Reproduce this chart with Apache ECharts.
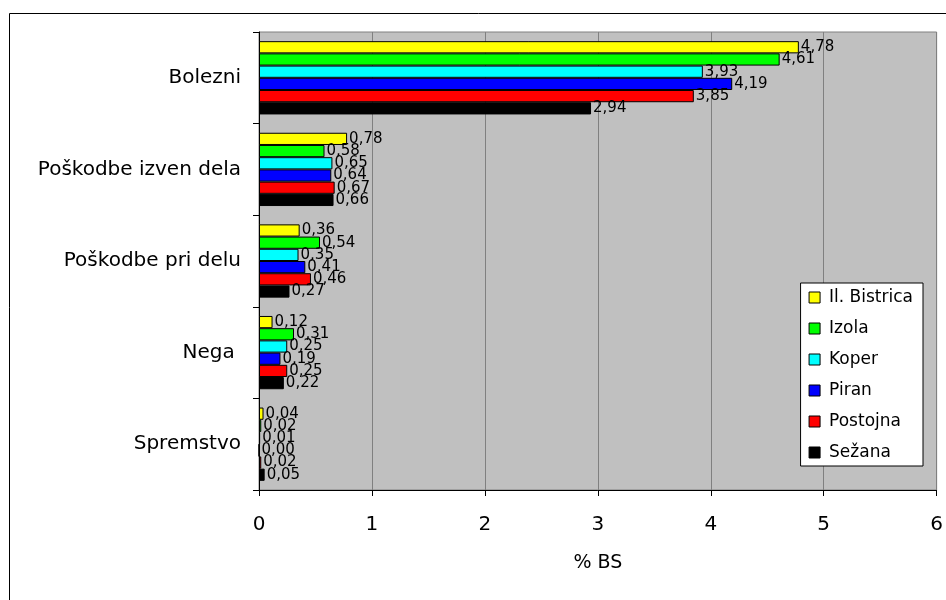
<!DOCTYPE html>
<html>
<head>
<meta charset="utf-8">
<script src="https://cdn.jsdelivr.net/npm/echarts@6/dist/echarts.min.js"></script>
<style>
html,body{margin:0;padding:0;background:#fff;}
#c{width:946px;height:600px;}
</style>
</head>
<body>
<div id="c"></div>
<script>
const categories = ['Bolezni', 'Poškodbe izven dela', 'Poškodbe pri delu', 'Nega ', 'Spremstvo'];
const seriesNames = ['Il. Bistrica', 'Izola', 'Koper', 'Piran', 'Postojna', 'Sežana'];
const ilBistrica = [4.78, 0.78, 0.36, 0.12, 0.04];
const izola      = [4.61, 0.58, 0.54, 0.31, 0.02];
const koper      = [3.93, 0.65, 0.35, 0.25, 0.01];
const piran      = [4.19, 0.64, 0.41, 0.19, 0.00];
const postojna   = [3.85, 0.67, 0.46, 0.25, 0.02];
const sezana     = [2.94, 0.66, 0.27, 0.22, 0.05];
const xTicks = [0, 1, 2, 3, 4, 5, 6];

const values = [ilBistrica, izola, koper, piran, postojna, sezana];
const colors = ['#FFFF00', '#00FF00', '#00FFFF', '#0000FF', '#FF0000', '#000000'];
const FONT = 'DejaVu Sans';

const chart = echarts.init(document.getElementById('c'), null, {renderer: 'canvas'});
chart.setOption({
  animation: false,
  textStyle: {fontFamily: FONT},
  graphic: [{
    type: 'rect', silent: true, z: -10,
    shape: {x: 9.5, y: 13.5, width: 1200, height: 1200},
    style: {fill: '#fff', stroke: '#000', lineWidth: 1}
  }],
  grid: {
    left: 259, top: 32, right: 8, bottom: 110,
    show: true, backgroundColor: '#C0C0C0', borderColor: '#808080', borderWidth: 1
  },
  legend: {
    orient: 'vertical', right: 23, top: 283,
    backgroundColor: '#fff', borderColor: '#000', borderWidth: 1,
    padding: [6, 10, 5, 8],
    itemWidth: 11, itemHeight: 11, itemGap: 14,
    icon: 'rect',
    textStyle: {fontFamily: FONT, fontSize: 17, color: '#000', padding: [0, 0, 0, 4]},
    itemStyle: {borderColor: '#000', borderWidth: 1},
    data: seriesNames
  },
  xAxis: {
    type: 'value', min: 0, max: 6, interval: 1,
    name: '% BS', nameLocation: 'middle', nameGap: 64,
    nameTextStyle: {fontFamily: FONT, fontSize: 19, color: '#000'},
    axisLine: {show: true, lineStyle: {color: '#000', width: 1}},
    axisTick: {show: true, length: 6, lineStyle: {color: '#000'}},
    axisLabel: {fontFamily: FONT, fontSize: 20, color: '#000', margin: 25,
      formatter: v => xTicks.includes(v) ? String(v) : ''},
    splitLine: {show: true, lineStyle: {color: '#808080', width: 1}}
  },
  yAxis: {
    type: 'category', data: categories, inverse: true,
    axisLine: {show: true, lineStyle: {color: '#000', width: 1}},
    axisTick: {show: true, length: 6, lineStyle: {color: '#000'}},
    axisLabel: {fontFamily: FONT, fontSize: 20, color: '#000', margin: 18}
  },
  series: seriesNames.map((name, i) => ({
    name: name, type: 'bar', data: values[i],
    barCategoryGap: '20%', barGap: '0%',
    itemStyle: {color: colors[i], borderColor: '#000', borderWidth: 1},
    label: {
      show: true, position: 'right', distance: 2,
      fontFamily: FONT, fontSize: 15, color: '#000',
      formatter: p => p.value.toFixed(2).replace('.', ',')
    }
  }))
});
</script>
</body>
</html>
